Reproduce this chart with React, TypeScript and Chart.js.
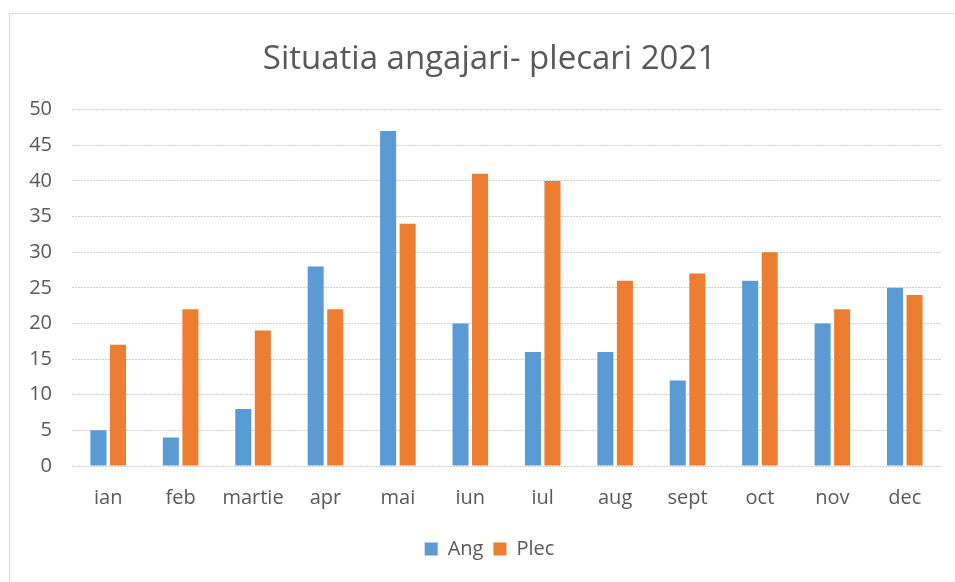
import React, { useEffect, useRef } from "react";
import { Chart, registerables } from "chart.js";

Chart.register(...registerables);

const categories = ["ian", "feb", "martie", "apr", "mai", "iun", "iul", "aug", "sept", "oct", "nov", "dec"];
const angValues = [5, 4, 8, 28, 47, 20, 16, 16, 12, 26, 20, 25];
const plecValues = [17, 22, 19, 22, 34, 41, 40, 26, 27, 30, 22, 24];
const titleText = "Situatia angajari- plecari 2021";

const FONT = "'Open Sans', 'Noto Sans', sans-serif";
const TEXT = "#595959";

export default function App() {
  const ref = useRef<HTMLCanvasElement | null>(null);

  useEffect(() => {
    if (!ref.current) return;
    const chart = new Chart(ref.current, {
      type: "bar",
      data: {
        labels: categories,
        datasets: [
          {
            label: "Ang",
            data: angValues,
            backgroundColor: "#5B9BD5",
            categoryPercentage: 0.54,
            barPercentage: 0.82,
          },
          {
            label: "Plec",
            data: plecValues,
            backgroundColor: "#ED7D31",
            categoryPercentage: 0.54,
            barPercentage: 0.82,
          },
        ],
      },
      options: {
        animation: false,
        responsive: false,
        maintainAspectRatio: false,
        layout: { padding: { left: 24, right: 0, top: 0, bottom: 13 } },
        plugins: {
          title: {
            display: true,
            text: titleText,
            color: TEXT,
            font: { family: FONT, size: 33, weight: "normal" },
            padding: { top: 40, bottom: 30 },
          },
          legend: {
            display: true,
            position: "bottom",
            labels: {
              color: TEXT,
              font: { family: FONT, size: 20 },
              boxWidth: 13,
              boxHeight: 13,
              padding: 10,
            },
          },
          tooltip: { enabled: false },
        },
        scales: {
          x: {
            offset: true,
            afterFit: (s: any) => {
              s.height = 63;
            },
            grid: { display: false },
            border: { display: false },
            ticks: {
              color: TEXT,
              font: { family: FONT, size: 20 },
              padding: 12,
              maxRotation: 0,
            },
          },
          y: {
            min: 0,
            max: 50,
            afterFit: (s: any) => {
              s.width = 48;
            },
            grid: { color: "#cfcfcf", drawTicks: false, lineWidth: 1 },
            border: { display: false, dash: [2, 1] },
            ticks: {
              stepSize: 5,
              color: TEXT,
              font: { family: FONT, size: 20 },
              padding: 20,
            },
          },
          yRight: {
            position: "right",
            display: true,
            afterFit: (s: any) => {
              s.width = 14;
            },
            grid: { display: false },
            border: { display: false },
            ticks: { display: false },
          },
        },
      },
    });
    return () => chart.destroy();
  }, []);

  return (
    <div style={{ position: "absolute", left: 0, top: 0, width: 955, height: 582, background: "#fff" }}>
      <div
        style={{
          position: "absolute",
          left: 9,
          top: 13,
          right: 0,
          bottom: 0,
          borderLeft: "1px solid #d9d9d9",
          borderTop: "1px solid #d9d9d9",
        }}
      />
      <canvas ref={ref} width={955} height={582} style={{ position: "absolute", left: 0, top: 0 }} />
    </div>
  );
}
